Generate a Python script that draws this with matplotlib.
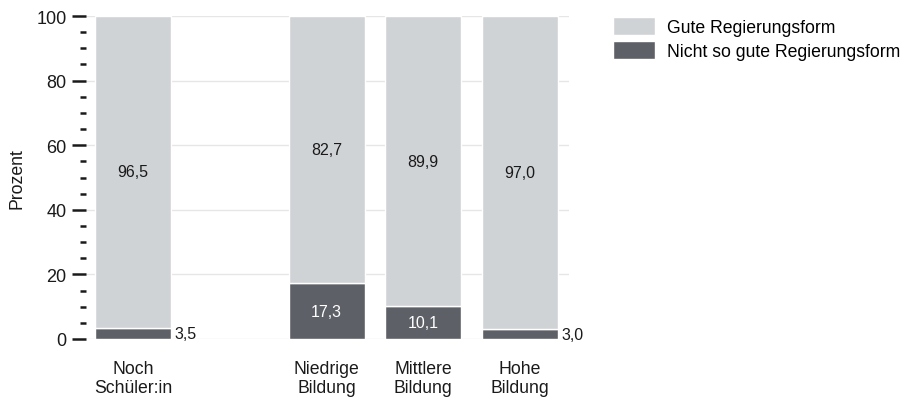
import numpy as np
import matplotlib.pyplot as plt
from matplotlib.ticker import MultipleLocator

plt.rcParams['font.family'] = ['Liberation Sans', 'DejaVu Sans']

categories = ["Noch\nSchüler:in", "Niedrige\nBildung", "Mittlere\nBildung", "Hohe\nBildung"]
positions = [0, 2, 3, 4]
gut = [96.5, 82.7, 89.9, 97.0]
nicht_gut = [3.5, 17.3, 10.1, 3.0]

light = '#d0d3d6'
dark = '#5e6068'
text_col = '#1a1a1a'

fig = plt.figure(figsize=(9.05, 4.02), dpi=100)
ax = fig.add_axes([86 / 905, 62 / 402, 483 / 905, 323 / 402])

w = 0.785
b1 = ax.bar(positions, nicht_gut, width=w, color=dark, edgecolor='white', linewidth=1,
            label='Nicht so gute Regierungsform', zorder=3)
b2 = ax.bar(positions, gut, width=w, bottom=nicht_gut, color=light, edgecolor='white', linewidth=1,
            label='Gute Regierungsform', zorder=3)

def fmt(v):
    return f"{v:.1f}".replace('.', ',')

for x, g, n in zip(positions, gut, nicht_gut):
    ax.text(x, n + g / 2, fmt(g), ha='center', va='center', fontsize=11.5, color=text_col, zorder=4)
    if n > 8:
        ax.text(x, n / 2, fmt(n), ha='center', va='center', fontsize=11.5, color='white', zorder=4)
    else:
        ax.text(x + w / 2 + 0.04, n / 2, fmt(n), ha='left', va='center', fontsize=11.5,
                color=text_col, zorder=4)

ax.set_xlim(-0.486, 4.506)
ax.set_ylim(0, 100)
ax.set_xticks(positions)
ax.set_xticklabels(categories, fontsize=12.7, color=text_col, linespacing=1.2)
ax.tick_params(axis='x', length=0, pad=15)

ax.yaxis.set_major_locator(MultipleLocator(20))
ax.yaxis.set_minor_locator(MultipleLocator(5))
ax.tick_params(axis='y', which='major', length=10, width=1.8, color=text_col,
               labelsize=13, labelcolor=text_col, pad=4)
ax.tick_params(axis='y', which='minor', length=4.5, width=1.8, color=text_col)
for s in ['top', 'right', 'bottom', 'left']:
    ax.spines[s].set_visible(False)
ax.grid(axis='y', color='#e6e6e6', linewidth=1, zorder=0)
ax.yaxis.get_gridlines()[0].set_visible(False)
ax.set_ylabel('Prozent', fontsize=12.7, color=text_col, labelpad=8)

handles = [b2, b1]
fig.legend(handles, [h.get_label() for h in handles], loc='upper left',
           bbox_to_anchor=(613 / 905, 1 - 18 / 402), frameon=False, fontsize=12.7,
           borderpad=0, borderaxespad=0,
           handlelength=2.4, handleheight=1.2, handletextpad=0.65, labelspacing=0.3)

fig.savefig('out.png', dpi=100)
